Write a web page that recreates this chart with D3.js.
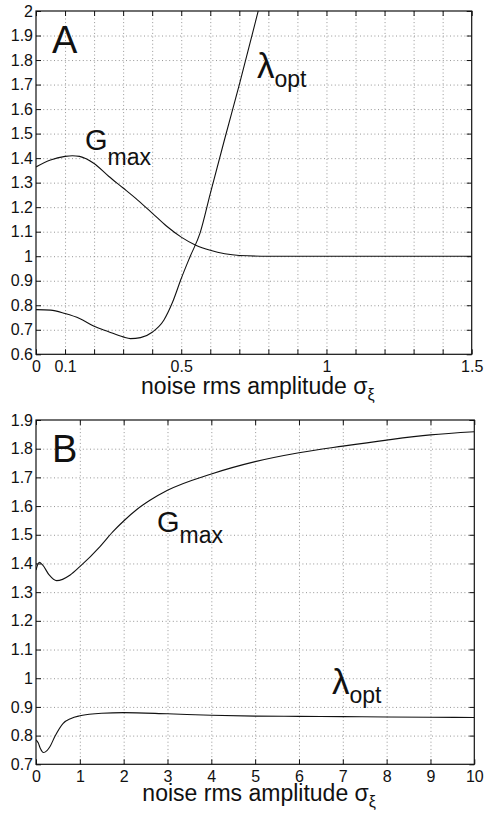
<!DOCTYPE html>
<html>
<head>
<meta charset="utf-8">
<script src="https://cdn.jsdelivr.net/npm/d3@7/dist/d3.min.js"></script>
<style>
  body { margin: 0; background: #fff; }
  svg { display: block; }
  text { font-family: "Liberation Sans", Arial, sans-serif; fill: #111; }
  .grid line { stroke: #8a8a8a; stroke-dasharray: 1,2.6; stroke-width: 0.9; }
  .grid path { display: none; }
  .ax path { display: none; }
  .ax line { stroke: #111; }
  .ax text { font-size: 16px; fill: #111; }
</style>
</head>
<body>
<div id="chart"></div>
<script>
// panneau A : sigma de 0 a 1.5
var sigmaA_G = [0, 0.05, 0.1, 0.125, 0.15, 0.2, 0.25, 0.3, 0.35, 0.4, 0.45, 0.5, 0.55, 0.6, 0.65, 0.7, 0.8, 0.9, 1.0, 1.5];
var gmaxA    = [1.364, 1.392, 1.407, 1.41, 1.407, 1.378, 1.326, 1.278, 1.229, 1.176, 1.122, 1.078, 1.045, 1.024, 1.01, 1.003, 1.0, 1.0, 1.0, 1.0];
var sigmaA_L = [0, 0.05, 0.1, 0.15, 0.2, 0.25, 0.3, 0.325, 0.36, 0.4, 0.44, 0.47, 0.5, 0.53, 0.565, 0.6, 0.65, 0.7, 0.75, 0.765];
var lambdaA  = [0.782, 0.78, 0.766, 0.746, 0.714, 0.692, 0.671, 0.664, 0.668, 0.69, 0.739, 0.812, 0.909, 0.997, 1.095, 1.255, 1.48, 1.70, 1.93, 2.0];

// panneau B : sigma de 0 a 10
var sigmaB_G = [0, 0.075, 0.15, 0.3, 0.47, 0.78, 1, 1.46, 1.75, 2, 2.3, 2.6, 3, 4, 5, 6, 7, 8, 9, 10];
var gmaxB    = [1.377, 1.404, 1.395, 1.36, 1.34, 1.36, 1.389, 1.459, 1.51, 1.548, 1.588, 1.62, 1.655, 1.712, 1.755, 1.786, 1.809, 1.83, 1.848, 1.859];
var sigmaB_L = [0, 0.05, 0.1, 0.17, 0.25, 0.32, 0.43, 0.62, 0.8, 1, 1.5, 2, 3, 4, 5, 6, 7, 8, 9, 10];
var lambdaB  = [0.785, 0.775, 0.755, 0.741, 0.748, 0.762, 0.797, 0.843, 0.86, 0.869, 0.878, 0.88, 0.876, 0.871, 0.868, 0.867, 0.866, 0.865, 0.864, 0.863];

var xTicksA = d3.range(0, 16).map(function(i){ return i / 10; });
var xLabelsA = [0, 0.1, 0.5, 1, 1.5];
var yTicksA = d3.range(6, 21).map(function(i){ return i / 10; });
var xTicksB = d3.range(0, 11);
var yTicksB = d3.range(7, 20).map(function(i){ return i / 10; });

var svg = d3.select("#chart").append("svg")
    .attr("width", 485)
    .attr("height", 813);

function panel(box, xDom, yDom, xT, xLab, yT, curves, letter, labels, xlabY){
    var x = d3.scaleLinear().domain(xDom).range([box.l, box.r]);
    var y = d3.scaleLinear().domain(yDom).range([box.b, box.t]);
    var w = box.r - box.l, h = box.b - box.t;

    // grille pointillee
    svg.append("g").attr("class", "grid")
        .attr("transform", "translate(0," + box.b + ")")
        .call(d3.axisBottom(x).tickValues(xT.slice(1, -1)).tickSize(-h).tickFormat(""));
    svg.append("g").attr("class", "grid")
        .attr("transform", "translate(" + box.l + ",0)")
        .call(d3.axisLeft(y).tickValues(yT.slice(1, -1)).tickSize(-w).tickFormat(""));

    var clipId = "clip" + letter.t;
    svg.append("clipPath").attr("id", clipId).append("rect")
        .attr("x", box.l).attr("y", box.t).attr("width", w).attr("height", h);

    var line = d3.line()
        .x(function(d){ return x(d[0]); })
        .y(function(d){ return y(d[1]); })
        .curve(d3.curveMonotoneX);

    curves.forEach(function(c){
        svg.append("path")
            .datum(d3.zip(c[0], c[1]))
            .attr("clip-path", "url(#" + clipId + ")")
            .attr("fill", "none")
            .attr("stroke", "#111")
            .attr("stroke-width", 1.1)
            .attr("d", line);
    });

    // axes avec graduations vers l'interieur
    svg.append("g").attr("class", "ax")
        .attr("transform", "translate(0," + box.b + ")")
        .call(d3.axisBottom(x).tickValues(xT).tickSize(-5).tickPadding(6)
            .tickFormat(function(d){
                if (xLab && xLab.indexOf(Math.round(d * 10) / 10) < 0) return "";
                return d3.format("~g")(d);
            }));
    svg.append("g").attr("class", "ax")
        .attr("transform", "translate(0," + box.t + ")")
        .call(d3.axisTop(x).tickValues(xT).tickSize(-5).tickFormat(""));
    svg.append("g").attr("class", "ax")
        .attr("transform", "translate(" + box.l + ",0)")
        .call(d3.axisLeft(y).tickValues(yT).tickSize(-5).tickPadding(3)
            .tickFormat(function(d){ return d3.format("~g")(Math.round(d * 10) / 10); }));
    svg.append("g").attr("class", "ax")
        .attr("transform", "translate(" + box.r + ",0)")
        .call(d3.axisRight(y).tickValues(yT).tickSize(-5).tickFormat(""));

    svg.append("rect")
        .attr("x", box.l).attr("y", box.t).attr("width", w).attr("height", h)
        .attr("fill", "none").attr("stroke", "#111").attr("stroke-width", 1.2);

    svg.append("text")
        .attr("x", box.l + 16).attr("y", letter.y)
        .attr("font-size", 38)
        .text(letter.t);

    labels.forEach(function(lb){
        var t = svg.append("text").attr("x", lb.x).attr("y", lb.y);
        t.append("tspan").attr("font-size", lb.big).text(lb.main);
        t.append("tspan").attr("font-size", 23).attr("dy", lb.dy).text(lb.sub);
    });

    var xl = svg.append("text")
        .attr("x", (box.l + box.r) / 2 + 4).attr("y", xlabY)
        .attr("text-anchor", "middle")
        .attr("font-size", 23);
    xl.append("tspan").text("noise rms amplitude σ");
    xl.append("tspan").attr("font-size", 16).attr("dy", 6).text("ξ");
}

panel({l: 36, t: 11, r: 471.7, b: 354.3}, [0, 1.5], [0.6, 2], xTicksA, xLabelsA, yTicksA,
    [[sigmaA_G, gmaxA], [sigmaA_L, lambdaA]],
    {t: "A", y: 53},
    [{main: "G", sub: "max", x: 85, y: 150, dy: 15, big: 29},
     {main: "λ", sub: "opt", x: 257, y: 78, dy: 9, big: 35}],
    394);

panel({l: 36, t: 420, r: 474.3, b: 764.3}, [0, 10], [0.7, 1.9], xTicksB, null, yTicksB,
    [[sigmaB_G, gmaxB], [sigmaB_L, lambdaB]],
    {t: "B", y: 462},
    [{main: "G", sub: "max", x: 157, y: 532, dy: 11, big: 29},
     {main: "λ", sub: "opt", x: 332, y: 694, dy: 9, big: 35}],
    801);
</script>
</body>
</html>
